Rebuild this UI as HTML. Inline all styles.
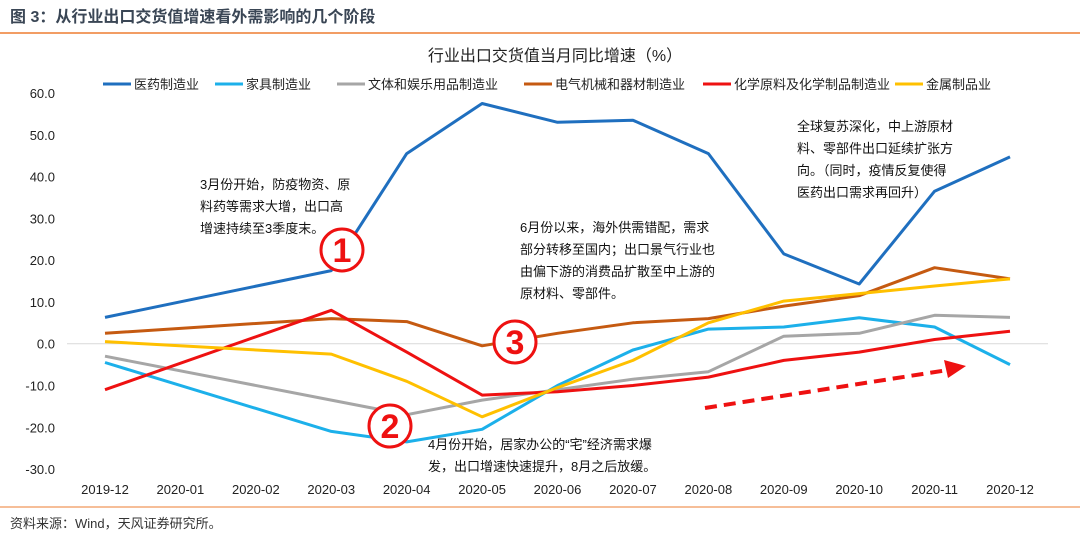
<!DOCTYPE html>
<html><head><meta charset="utf-8"><style>
body{margin:0;background:#fff;font-family:"Liberation Sans","Noto Sans CJK SC",sans-serif;}
#wrap{position:relative;width:1080px;height:542px;overflow:hidden;}
</style></head><body>
<div id="wrap">
<svg id="chart" width="1080" height="542" style="font-family:'Liberation Sans','Noto Sans CJK SC',sans-serif"></svg>
</div>
<script>
const categories=["2019-12","2020-01","2020-02","2020-03","2020-04","2020-05","2020-06","2020-07","2020-08","2020-09","2020-10","2020-11","2020-12"];
const seriesNames=["医药制造业","家具制造业","文体和娱乐用品制造业","电气机械和器材制造业","化学原料及化学制品制造业","金属制品业"];
const seriesColors=["#1f6fbf","#1cb0ea","#a6a6a6","#c55a11","#ee1111","#ffc000"];
const pharma=[6.3,null,null,17.5,45.5,57.5,53,53.5,45.5,21.5,14.3,36.5,44.7];
const furniture=[-4.5,null,null,-21,-23.5,-20.5,-10,-1.5,3.5,4,6.2,4,-5];
const sports=[-3,null,null,-13.5,-17,-13.5,-11,-8.5,-6.7,1.8,2.5,6.8,6.3];
const electric=[2.5,null,null,6,5.3,-0.5,2.5,5,6,9,11.5,18.2,15.5];
const chemical=[-11,null,null,8,-2,-12.3,-11.5,-10,-8,-4,-2,1,3];
const metal=[0.5,null,null,-2.5,-9,-17.5,-10.5,-4,5,10.2,12,13.8,15.5];
const yTicks=[60,50,40,30,20,10,0,-10,-20,-30];
const allSeries=[pharma,furniture,sports,electric,chemical,metal];
const NS="http://www.w3.org/2000/svg";
const svg=document.getElementById('chart');
function el(t,a,p){const e=document.createElementNS(NS,t);for(const k in a)e.setAttribute(k,a[k]);(p||svg).appendChild(e);return e;}
const y=v=>343.7-v*4.178;
const x=i=>105+i*75.42;
// header
let t=el('text',{x:10,y:22,'font-size':16,'font-weight':'bold',fill:'#3a4655'});t.textContent="图 3：从行业出口交货值增速看外需影响的几个阶段";

let l=el('line',{x1:0,y1:33,x2:1080,y2:33,stroke:'#ed7d31','stroke-width':1.5});

t=el('text',{x:555,y:61,'font-size':16,'text-anchor':'middle',fill:'#222'});t.textContent="行业出口交货值当月同比增速（%）";

// legend
const legX=[103,215,337,524,703,895];
seriesNames.forEach((n,i)=>{
 const g=el('g',{});
 el('line',{x1:legX[i],y1:84,x2:legX[i]+28,y2:84,stroke:seriesColors[i],'stroke-width':3},g);
 const tt=el('text',{x:legX[i]+31,y:89,'font-size':13,fill:'#222'},g);tt.textContent=n;
});
// y axis labels
yTicks.forEach(v=>{const tt=el('text',{x:55,y:y(v)+5,'font-size':13,'text-anchor':'end',fill:'#222'});tt.textContent=v.toFixed(1);
 });
l=el('line',{x1:67,y1:y(0),x2:1048,y2:y(0),stroke:'#d9d9d9','stroke-width':1});

categories.forEach((c,i)=>{const tt=el('text',{x:x(i),y:494,'font-size':13,'text-anchor':'middle',fill:'#222'});tt.textContent=c;
 });
// series
allSeries.forEach((s,si)=>{
 const pts=[];s.forEach((v,i)=>{if(v!==null)pts.push(x(i).toFixed(1)+','+y(v).toFixed(1));});
 const p=el('polyline',{points:pts.join(' '),fill:'none',stroke:seriesColors[si],'stroke-width':3,'stroke-linejoin':'round'});
 
});
// annotations
function txt(lines,x0,y0,name){const g=el('g',{});
 lines.forEach((s,i)=>{const tt=el('text',{x:x0,y:y0+i*22,'font-size':13,fill:'#111'},g);tt.textContent=s;});}
txt(["3月份开始，防疫物资、原","料药等需求大增，出口高","增速持续至3季度末。"],200,189,'annotation-1');
txt(["6月份以来，海外供需错配，需求","部分转移至国内；出口景气行业也","由偏下游的消费品扩散至中上游的","原材料、零部件。"],520,232,'annotation-3');
txt(["全球复苏深化，中上游原材","料、零部件出口延续扩张方","向。（同时，疫情反复使得","医药出口需求再回升）"],797,131,'annotation-4');
txt(["4月份开始，居家办公的“宅”经济需求爆","发，出口增速快速提升，8月之后放缓。"],428,449,'annotation-2');
[[342,250,'1'],[390,426,'2'],[515,342,'3']].forEach(c=>{const g=el('g',{});
 el('circle',{cx:c[0],cy:c[1],r:21,fill:'#fff',stroke:'#ee1111','stroke-width':3},g);
 const tt=el('text',{x:c[0],y:c[1]+12,'font-size':34,'font-weight':'bold','text-anchor':'middle',fill:'#ee1111'},g);tt.textContent=c[2];});
l=el('line',{x1:705,y1:408,x2:948,y2:370,stroke:'#ee1111','stroke-width':4,'stroke-dasharray':'12,7'});

let a=el('polygon',{points:'966,366 944,360 948,378',fill:'#ee1111'});

l=el('line',{x1:0,y1:507,x2:1080,y2:507,stroke:'#ed7d31','stroke-width':1});

t=el('text',{x:10,y:528,'font-size':13,fill:'#333'});t.textContent="资料来源：Wind，天风证券研究所。";

</script>
</body></html>
